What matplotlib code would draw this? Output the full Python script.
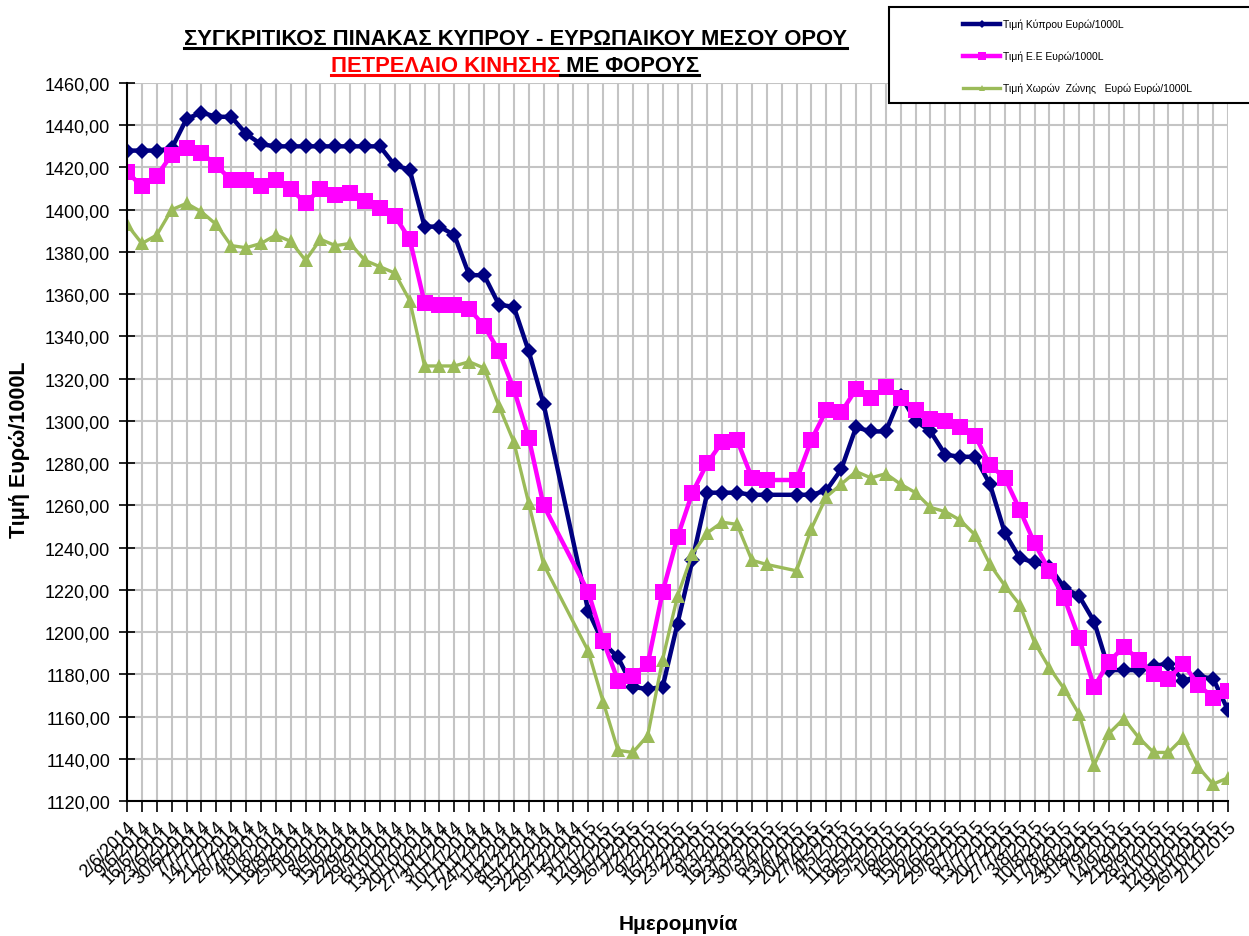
import numpy as np
import matplotlib
matplotlib.use("Agg")
from matplotlib import pyplot as plt
from matplotlib import font_manager
from matplotlib.lines import Line2D
from matplotlib.patches import Rectangle
from matplotlib.ticker import FuncFormatter

# weekly dates (category axis)
dates = ["2/6/2014", "9/6/2014", "16/6/2014", "23/6/2014", "30/6/2014", "7/7/2014",
         "14/7/2014", "21/7/2014", "28/7/2014", "4/8/2014", "11/8/2014", "18/8/2014",
         "25/8/2014", "1/9/2014", "8/9/2014", "15/9/2014", "22/9/2014", "29/9/2014",
         "6/10/2014", "13/10/2014", "20/10/2014", "27/10/2014", "3/11/2014", "10/11/2014",
         "17/11/2014", "24/11/2014", "1/12/2014", "8/12/2014", "15/12/2014", "22/12/2014",
         "29/12/2014", "5/1/2015", "12/1/2015", "19/1/2015", "26/1/2015", "2/2/2015",
         "9/2/2015", "16/2/2015", "23/2/2015", "2/3/2015", "9/3/2015", "16/3/2015",
         "23/3/2015", "30/3/2015", "6/4/2015", "13/4/2015", "20/4/2015", "27/4/2015",
         "4/5/2015", "11/5/2015", "18/5/2015", "25/5/2015", "1/6/2015", "8/6/2015",
         "15/6/2015", "22/6/2015", "29/6/2015", "6/7/2015", "13/7/2015", "20/7/2015",
         "27/7/2015", "3/8/2015", "10/8/2015", "17/8/2015", "24/8/2015", "31/8/2015",
         "7/9/2015", "14/9/2015", "21/9/2015", "28/9/2015", "5/10/2015", "12/10/2015",
         "19/10/2015", "26/10/2015", "2/11/2015"]

# Τιμή Κύπρου
cyprus = [1428, 1428, 1428, 1429, 1443, 1446, 1444, 1444, 1436, 1431,
          1430, 1430, 1430, 1430, 1430, 1430, 1430, 1430, 1421, 1419,
          1392, 1392, 1388, 1369, 1369, 1355, 1354, 1333, 1308, None,
          None, 1210, 1195, 1188, 1174, 1173, 1174, 1204, 1234, 1266,
          1266, 1266, 1265, 1265, None, 1265, 1265, 1267, 1277, 1297,
          1295, 1295, 1312, 1300, 1295, 1284, 1283, 1283, 1270, 1247,
          1235, 1233, 1231, 1221, 1217, 1205, 1182, 1182, 1182, 1184,
          1185, 1177, 1179, 1178, 1163]

# Τιμή Ε.Ε
eu = [1418, 1411, 1416, 1426, 1429, 1427, 1421, 1414, 1414, 1411,
      1414, 1410, 1403, 1410, 1407, 1408, 1404, 1401, 1397, 1386,
      1356, 1355, 1355, 1353, 1345, 1333, 1315, 1292, 1260, None,
      None, 1219, 1196, 1177, 1179, 1185, 1219, 1245, 1266, 1280,
      1290, 1291, 1273, 1272, None, 1272, 1291, 1305, 1304, 1315,
      1311, 1316, 1311, 1305, 1301, 1300, 1297, 1293, 1279, 1273,
      1258, 1242, 1229, 1216, 1197, 1174, 1186, 1193, 1187, 1180,
      1178, 1185, 1175, 1169, 1172]

# Τιμή Χωρών Ζώνης Ευρώ
eurozone = [1393, 1384, 1388, 1400, 1403, 1399, 1393, 1383, 1382, 1384,
            1388, 1385, 1376, 1386, 1383, 1384, 1376, 1373, 1370, 1357,
            1326, 1326, 1326, 1328, 1325, 1307, 1290, 1261, 1232, None,
            None, 1191, 1167, 1144, 1143, 1151, 1187, 1217, 1237, 1247,
            1252, 1251, 1234, 1232, None, 1229, 1249, 1264, 1270, 1276,
            1273, 1275, 1270, 1266, 1259, 1257, 1253, 1246, 1232, 1222,
            1213, 1195, 1183, 1173, 1161, 1137, 1152, 1159, 1150, 1143,
            1143, 1150, 1136, 1128, 1131]

labels = ["Τιμή Κύπρου Ευρώ/1000L", "Τιμή Ε.Ε Ευρώ/1000L",
          "Τιμή Χωρών  Ζώνης   Ευρώ Ευρώ/1000L"]


def pick_font(names):
    for n in names:
        try:
            font_manager.findfont(n, fallback_to_default=False)
            return n
        except ValueError:
            pass
    return "DejaVu Sans"


base = pick_font(["Liberation Sans", "Arial"])
plt.rcParams["font.family"] = [base, "DejaVu Sans"]

W, H = 1249, 937
fig = plt.figure(figsize=(W / 100, H / 100), dpi=100)
fig.patch.set_facecolor("white")


def fx(px):
    return px / W


def fy(py):
    return 1 - py / H


ax = fig.add_axes([fx(127), fy(802), fx(1228) - fx(127), fy(84) - fy(802)])

x = np.arange(len(dates))
series = [
    (cyprus, "#000080", "D", 8.5, 3.2),
    (eu, "#ff00ff", "s", 12, 3.2),
    (eurozone, "#9bbb59", "^", 10.5, 2.4),
]
for (vals, color, mk, ms, lw), lab in zip(series, labels):
    y = np.array([np.nan if v is None else v for v in vals], dtype=float)
    ok = ~np.isnan(y)
    ax.plot(x[ok], y[ok], color=color, marker=mk, markersize=ms, linewidth=lw,
            markeredgewidth=0, label=lab)

ax.set_xlim(0, len(dates) - 1)
ax.set_ylim(1120, 1460)
ax.set_yticks(np.arange(1120, 1461, 20))
ax.yaxis.set_major_formatter(FuncFormatter(lambda v, p: f"{v:.2f}".replace(".", ",")))
ax.set_xticks(x)
ax.set_xticklabels(dates, rotation=45, ha="right", rotation_mode="anchor", fontsize=13)
ax.tick_params(axis="y", labelsize=13, direction="inout", length=12, width=1.2, pad=6)
ax.tick_params(axis="x", direction="out", length=8, width=1.2, pad=4)
ax.grid(True, color="#c4c4c4", linewidth=1.5)
ax.set_axisbelow(True)
for s in ["top", "right"]:
    ax.spines[s].set_visible(False)
for s in ["left", "bottom"]:
    ax.spines[s].set_linewidth(1.5)

fig.text(fx(20), fy(450), "Τιμή Ευρώ/1000L", rotation=90, ha="center", va="center",
         fontsize=15.5, fontweight="bold")
fig.text(fx(678), fy(925), "Ημερομηνία", ha="center", va="center",
         fontsize=15, fontweight="bold")

# title (two lines, underlined, second line partly red)
tsize = 15.8
t1 = fig.text(fx(515), fy(45), "ΣΥΓΚΡΙΤΙΚΟΣ ΠΙΝΑΚΑΣ ΚΥΠΡΟΥ - ΕΥΡΩΠΑΙΚΟΥ ΜΕΣΟΥ ΟΡΟΥ",
              ha="center", va="baseline", fontsize=tsize, fontweight="bold")
t2a = fig.text(0, fy(72), "ΠΕΤΡΕΛΑΙΟ ΚΙΝΗΣΗΣ", ha="left", va="baseline", fontsize=tsize,
               fontweight="bold", color="#ff0000")
t2b = fig.text(0, fy(72), " ΜΕ ΦΟΡΟΥΣ", ha="left", va="baseline", fontsize=tsize,
               fontweight="bold", color="black")

fig.canvas.draw()
r = fig.canvas.get_renderer()
w1 = t2a.get_window_extent(r).width
w2 = t2b.get_window_extent(r).width
start = 515 - (w1 + w2) / 2
t2a.set_x(fx(start))
t2b.set_x(fx(start + w1))
fig.canvas.draw()


def underline(t, base_px, color):
    bb = t.get_window_extent(r)
    yy = fy(base_px + 3.5)
    fig.add_artist(Line2D([bb.x0 / W, bb.x1 / W], [yy, yy], color=color, linewidth=2.2,
                          transform=fig.transFigure))


underline(t1, 45, "black")
underline(t2a, 72, "#ff0000")
underline(t2b, 72, "black")

# legend box
fig.add_artist(Rectangle((fx(889), fy(104)), fx(1262) - fx(889), fy(8) - fy(104),
                         transform=fig.transFigure, facecolor="white", edgecolor="black",
                         linewidth=1.5, clip_on=False))
for i, ((vals, color, mk, ms, lw), lab) in enumerate(zip(series, labels)):
    yy = fy(25 + i * 32)
    fig.add_artist(Line2D([fx(963), fx(1000)], [yy, yy], color=color, linewidth=lw,
                          transform=fig.transFigure))
    fig.add_artist(Line2D([fx(981.5)], [yy], color=color, marker=mk, markersize=ms * 0.45,
                          markeredgewidth=0, transform=fig.transFigure))
    fig.text(fx(1003), yy, lab, ha="left", va="center", fontsize=7.5)

fig.savefig("out.png", dpi=100)
